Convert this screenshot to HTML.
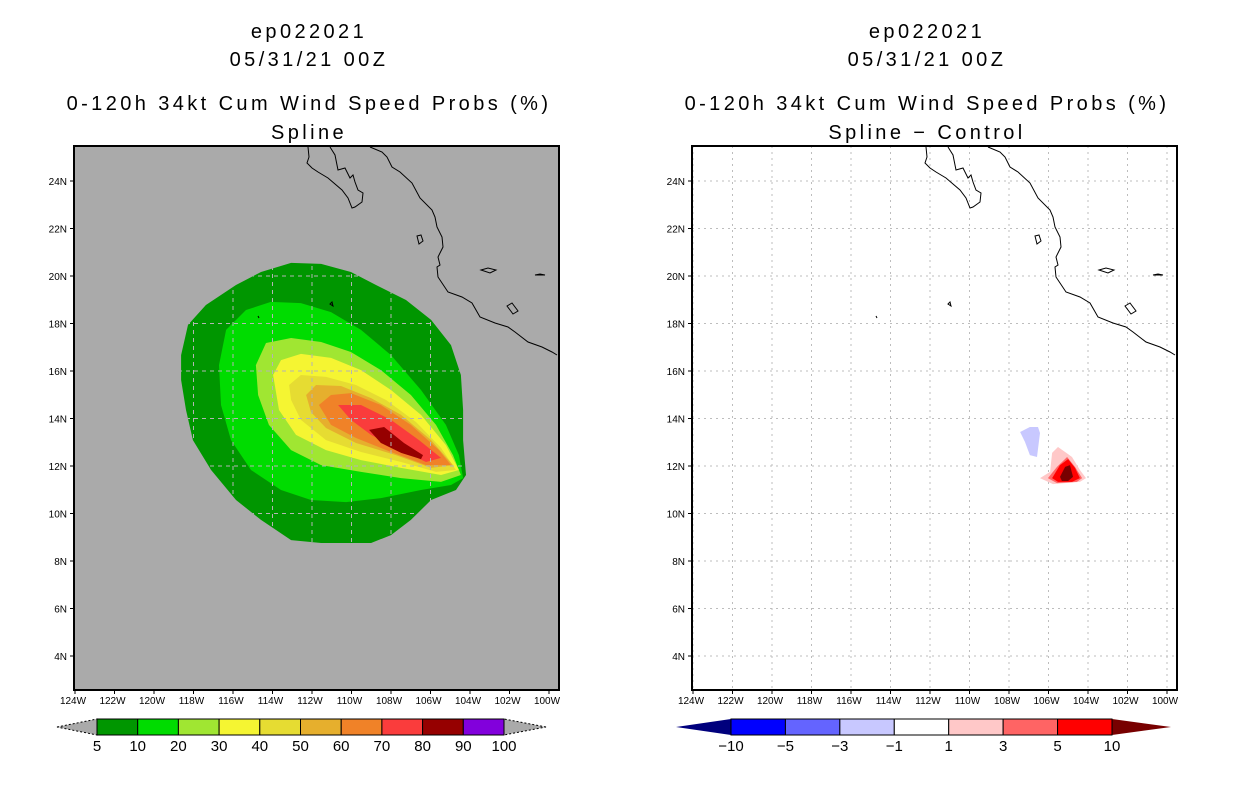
<!DOCTYPE html>
<html><head><meta charset="utf-8"><style>
body{margin:0;background:#fff;}
svg text{font-family:"Liberation Sans",sans-serif;}
</style></head><body>
<svg id="s" width="1236" height="800" xmlns="http://www.w3.org/2000/svg"></svg>
<script>
// ---- data ----
const lonTicks=[-124,-122,-120,-118,-116,-114,-112,-110,-108,-106,-104,-102,-100];
const latTicks=[4,6,8,10,12,14,16,18,20,22,24];
const probLevels=[5,10,20,30,40,50,60,70,80,90,100];
const probColors=["#009600","#00dc00","#a0e632","#f5f532","#e6dc32","#e6af2d","#f08228","#fa3c3c","#960000","#8200dc"];
const c5=[[-118.63,16.67],[-118.28,17.94],[-117.37,18.78],[-115.85,19.62],[-114.58,20.17],[-113.06,20.55],[-111.54,20.51],[-110.03,20.17],[-108.76,19.62],[-107.24,18.99],[-105.97,18.15],[-104.96,17.09],[-104.46,15.83],[-104.35,14.36],[-104.35,13.09],[-104.2,11.62],[-104.71,10.99],[-105.97,10.57],[-106.99,9.73],[-108.0,9.09],[-109.01,8.76],[-111.54,8.76],[-113.06,8.88],[-114.58,9.73],[-115.85,10.57],[-117.11,11.83],[-118.03,13.09],[-118.38,14.36],[-118.63,15.62]];
const c10=[[-116.71,16.25],[-116.35,17.73],[-115.34,18.57],[-114.08,18.91],[-112.56,18.86],[-111.04,18.48],[-109.52,17.73],[-108.0,16.67],[-106.48,15.2],[-105.22,13.73],[-104.56,12.46],[-104.35,11.49],[-104.96,11.2],[-106.48,10.99],[-108.51,10.65],[-110.28,10.48],[-112.05,10.57],[-113.57,10.99],[-115.09,11.83],[-116.1,13.09],[-116.61,14.57]];
const c20=[[-114.84,16.25],[-114.33,17.18],[-113.06,17.39],[-111.54,17.22],[-110.03,16.8],[-108.51,16.04],[-106.99,14.99],[-105.72,13.73],[-104.86,12.46],[-104.46,11.62],[-105.47,11.33],[-107.49,11.49],[-109.52,11.75],[-111.54,12.04],[-113.06,12.67],[-114.18,13.73],[-114.73,14.99]];
const c30=[[-113.97,15.83],[-113.57,16.46],[-112.56,16.72],[-111.04,16.55],[-109.52,16.04],[-108.0,15.2],[-106.48,14.15],[-105.22,12.88],[-104.56,11.83],[-105.47,11.62],[-107.49,11.92],[-109.52,12.25],[-111.29,12.67],[-112.81,13.31],[-113.67,14.36]];
const c40=[[-113.16,15.41],[-112.56,15.83],[-111.29,15.75],[-109.77,15.41],[-108.25,14.78],[-106.73,13.85],[-105.47,12.76],[-104.71,11.83],[-105.72,11.75],[-107.49,12.17],[-109.52,12.59],[-111.29,13.09],[-112.56,13.94],[-113.06,14.78]];
const c50=[[-112.3,14.99],[-111.8,15.41],[-110.53,15.37],[-109.01,14.86],[-107.49,14.15],[-105.97,13.09],[-104.86,12.04],[-105.97,11.92],[-107.75,12.46],[-109.77,12.97],[-111.29,13.6],[-112.05,14.27]];
const c60=[[-111.65,14.57],[-111.04,14.99],[-110.03,15.07],[-108.51,14.57],[-106.99,13.73],[-105.57,12.67],[-104.96,12.04],[-106.23,12.04],[-108.0,12.59],[-109.77,13.18],[-111.04,13.73]];
const c70=[[-110.68,14.57],[-109.52,14.57],[-108.0,13.94],[-106.58,13.09],[-105.47,12.34],[-106.23,12.17],[-107.75,12.76],[-109.01,13.31],[-110.03,13.94]];
const c80=[[-109.11,13.52],[-108.35,13.64],[-107.34,12.97],[-106.38,12.46],[-106.48,12.29],[-107.49,12.55],[-108.51,12.97]];
const diffLevels=[-10,-5,-3,-1,1,3,5,10];
const diffColors=["#00007d","#0000ff","#6464ff","#c8c8ff","#ffffff","#ffc8c8","#ff6464","#ff0000","#780000"];
const dNeg=[[-107.44,13.43],[-106.94,13.64],[-106.53,13.64],[-106.43,13.39],[-106.58,12.38],[-106.94,12.46],[-107.19,13.01]];
const dP1=[[-106.43,11.49],[-105.92,11.75],[-105.82,12.55],[-105.52,12.8],[-105.16,12.59],[-104.81,12.38],[-104.41,11.83],[-104.1,11.49],[-104.41,11.33],[-105.77,11.24]];
const dP3=[[-106.03,11.49],[-105.57,11.96],[-105.06,12.38],[-104.66,11.96],[-104.3,11.49],[-104.56,11.33],[-105.57,11.28]];
const dP5=[[-105.82,11.49],[-105.42,12.04],[-105.01,12.29],[-104.66,11.92],[-104.41,11.49],[-104.81,11.33],[-105.52,11.33]];
const dP10=[[-105.42,11.54],[-105.16,11.96],[-104.91,12.04],[-104.76,11.54],[-105.01,11.37],[-105.32,11.37]];
// basemap (pixel offsets relative to left panel)
const baja=[[308,147],[309,157],[307,163],[312,168],[318,172],[328,178],[342,190],[348,198],[352,208],[355,207],[362,202],[363,193],[358,190],[355,182],[353,175],[350,178],[345,168],[338,170],[337,165],[335,155],[330,147]];
const mainland=[[370,147],[382,152],[387,157],[392,167],[400,172],[412,183],[420,198],[432,210],[435,217],[437,227],[442,237],[443,247],[438,257],[440,265],[437,267],[438,277],[448,292],[462,297],[472,303],[480,317],[495,323],[508,327],[515,332],[528,342],[542,347],[552,352],[557,355]];
const islands=[[[417,236],[421,235],[423,241],[419,244]],[[481,270],[488,268],[496,270],[490,273]],[[507,306],[512,303],[518,311],[513,314]],[[535,275],[540,274],[545,275]],[[330,304],[332,302],[333,306]],[[258,316],[259,318]]];

const NS="http://www.w3.org/2000/svg";
const svg=document.getElementById('s');
function el(tag,attrs,parent){const e=document.createElementNS(NS,tag);for(const k in attrs)e.setAttribute(k,attrs[k]);(parent||svg).appendChild(e);return e;}
const PW=485,PT=146,PB=690;
function xs(x0){return lon=>x0+(lon+124)*19.75;}
function ys(lat){return 181+(24-lat)*23.75;}
function pts(arr,X){return arr.map(p=>X(p[0]).toFixed(1)+","+ys(p[1]).toFixed(1)).join(" ");}

function panel(x0,name,subtitle,bg){
  const X=xs(x0+1);
  const g=el('g',{});
  
  
  const cx=x0+235;
  [["ep022021",38,"case-title"],["05/31/21 00Z",66,"date-title"],["0-120h 34kt Cum Wind Speed Probs (%)",110,"chart-title"],[subtitle,139,"chart-subtitle"]].forEach(t=>{
    const tx=el('text',{x:cx,y:t[1],'text-anchor':'middle','font-size':'20','letter-spacing':'3.4'},g);
    tx.textContent=t[0];
    
    
  });
  const bgR=el('rect',{x:x0,y:PT,width:PW,height:PB-PT,fill:bg},g);
  
  
  return {g,X,cx};
}
function grid(g,X,x0,color,dash,clipId){
  const gg=el('g',clipId?{'clip-path':'url(#'+clipId+')'}:{},g);
  
  
  lonTicks.forEach(l=>{const x=X(l);if(x>x0&&x<x0+PW)el('line',{x1:x,x2:x,y1:PT,y2:PB,stroke:color,'stroke-dasharray':dash},gg);});
  latTicks.forEach(l=>{const y=ys(l);el('line',{x1:x0,x2:x0+PW,y1:y,y2:y,stroke:color,'stroke-dasharray':dash},gg);});
}
function coast(g,x0){
  const dx=x0-74;
  const cg=el('g',{fill:'none',stroke:'#000','stroke-width':'1'},g);
  
  
  [baja,mainland].forEach(a=>el('polyline',{points:a.map(p=>(p[0]+dx)+","+p[1]).join(" ")},cg));
  islands.forEach(a=>el('polygon',{points:a.map(p=>(p[0]+dx)+","+p[1]).join(" ")},cg));
}
function axes(g,X,x0){
  el('rect',{x:x0,y:PT,width:PW,height:PB-PT,fill:'none',stroke:'#000','stroke-width':'2'},g);
  lonTicks.forEach(l=>{const x=X(l);el('line',{x1:x,x2:x,y1:PB,y2:PB+4,stroke:'#000'},g);
    const t=el('text',{x:x-2,y:PB+14,'text-anchor':'middle','font-size':'10'},g);t.textContent=(-l)+"W";
    
    });
  latTicks.forEach(l=>{const y=ys(l);el('line',{x1:x0-4,x2:x0,y1:y,y2:y,stroke:'#000'},g);
    const t=el('text',{x:x0-7,y:y+4,'text-anchor':'end','font-size':'10'},g);t.textContent=l+"N";
    
    });
}
function colorbar(g,left,right,tipL,tipR,cols,labels,endL,endR,dashed){
  const n=cols.length,w=(right-left)/n,y0=719,y1=735,ym=727;
  const cb=el('g',{},g);
  
  
  el('polygon',{points:`${tipL},${ym} ${left},${y0} ${left},${y1}`,fill:endL,stroke:dashed?'#000':'none','stroke-dasharray':dashed?'2,2':''},cb);
  el('polygon',{points:`${tipR},${ym} ${right},${y0} ${right},${y1}`,fill:endR,stroke:dashed?'#000':'none','stroke-dasharray':dashed?'2,2':''},cb);
  cols.forEach((c,i)=>{const r=el('rect',{x:left+i*w,y:y0,width:w,height:y1-y0,fill:c,stroke:'#000'},cb);
    
    });
  labels.forEach((l,i)=>{const t=el('text',{x:left+i*w,y:751,'text-anchor':'middle','font-size':'15'},cb);t.textContent=String(l).replace('-','\u2212');
    
    });
}

// left panel
const L=panel(74,'probability-map-panel','Spline','#aaaaaa');
const defs=el('defs',{});
const cp=el('clipPath',{id:'shade'},defs);
el('polygon',{points:pts(c5,L.X)},cp);
[c5,c10,c20,c30,c40,c50,c60,c70,c80].forEach((c,i)=>{const p=el('polygon',{points:pts(c,L.X),fill:probColors[i]},L.g);
  
  });
grid(L.g,L.X,74,'#b4b4b4','4,4','shade');
coast(L.g,74);
axes(L.g,L.X,74);
colorbar(L.g,97,504,57,546,probColors,probLevels,'#aaaaaa','#aaaaaa',true);

// right panel
const R=panel(692,'difference-map-panel','Spline \u2212 Control','#ffffff');
grid(R.g,R.X,692,'#bdbdbd','2,4',null);
[[dNeg,3],[dP1,5],[dP3,6],[dP5,7],[dP10,8]].forEach(d=>{const p=el('polygon',{points:pts(d[0],R.X),fill:diffColors[d[1]]},R.g);
  
  });
coast(R.g,692);
axes(R.g,R.X,692);
colorbar(R.g,731,1112,676,1171,diffColors.slice(1,8),diffLevels,diffColors[0],diffColors[8],false);
</script>
</body></html>
